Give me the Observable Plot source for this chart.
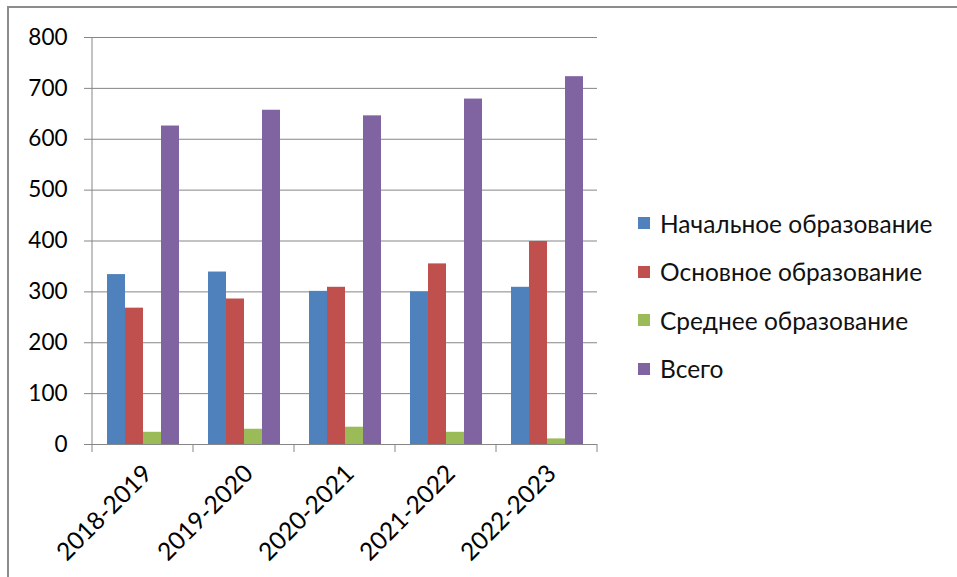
<!DOCTYPE html>
<html><head><meta charset="utf-8">
<script src="https://cdn.jsdelivr.net/npm/d3@7"></script>
<script src="https://cdn.jsdelivr.net/npm/@observablehq/plot@0.6"></script>
<style>
body{margin:0;background:#fff;}
#wrap{position:relative;width:957px;height:577px;overflow:hidden;font-family:Lato,"Open Sans",sans-serif;}
#frame{position:absolute;left:7px;top:6px;width:970px;height:600px;border-top:2px solid #8c8c8c;border-left:2px solid #8c8c8c;pointer-events:none;}
#chart{position:absolute;left:0;top:0;}
#legend{position:absolute;left:638px;top:199px;}
.row{display:flex;align-items:center;height:48.5px;font-size:24.5px;color:#111;white-space:nowrap;}
.sw{width:12px;height:12px;margin-right:10px;}
</style>
</head><body>
<div id="wrap"><div id="chart"></div><div id="legend"></div><div id="frame"></div></div>
<script>
const years = ["2018-2019","2019-2020","2020-2021","2021-2022","2022-2023"];
const series = ["Начальное образование","Основное образование","Среднее образование","Всего"];
const nachalnoe = [334,339,301,300,309];
const osnovnoe = [268,286,309,355,399];
const srednee = [24,30,34,24,11];
const vsego = [626,657,646,679,723];
const colors = ["#4F81BD","#C0504D","#9BBB59","#8064A2"];
const yTicks = [0,100,200,300,400,500,600,700,800];

const valuesBySeries = [nachalnoe, osnovnoe, srednee, vsego];
const rows = [];
years.forEach((yr,i)=>series.forEach((s,j)=>rows.push({year:yr, series:s, value:valuesBySeries[j][i]})));

const gridColor = "#868686";
const chart = Plot.plot({
  width:957, height:577,
  marginLeft:90, marginRight:359, marginTop:37, marginBottom:133,
  style:{fontFamily:"Lato, 'Open Sans', sans-serif", fontSize:"22.5px", color:"#000", background:"transparent", overflow:"visible"},
  fx:{domain:years, padding:0, label:null},
  x:{domain:series, paddingInner:0, paddingOuter:0.75, axis:null},
  y:{domain:[0,800], label:null},
  color:{domain:series, range:colors},
  marks:[
    Plot.gridY(yTicks,{stroke:gridColor, strokeOpacity:1}),
    Plot.axisY(yTicks,{tickSize:8, tickPadding:17, stroke:gridColor, label:null, anchor:"left"}),
    Plot.barY(rows,{fx:"year", x:"series", y:"value", fill:"series"}),
    Plot.ruleY([0],{stroke:gridColor}),
    Plot.axisFx({anchor:"bottom", tickSize:0, tickPadding:25, tickRotate:-45, textAnchor:"end", dx:5, fontSize:24.5, label:null})
  ]
});
document.getElementById("chart").appendChild(chart);

// axis line and category boundary ticks from the scales
const fx = chart.scale("fx"), y = chart.scale("y");
const bounds = years.map(v=>fx.apply(v)).concat([fx.apply(years[years.length-1]) + fx.bandwidth]);
const svg = d3.select(chart);
const y0 = y.apply(0), yTop = y.apply(800);
svg.append("line").attr("x1",bounds[0]).attr("x2",bounds[0]).attr("y1",yTop).attr("y2",y0).attr("stroke",gridColor);
svg.selectAll("line.ct").data(bounds).join("line").attr("class","ct")
  .attr("x1",d=>d).attr("x2",d=>d).attr("y1",y0).attr("y2",y0+8).attr("stroke",gridColor);

// legend
const lg = d3.select("#legend");
series.forEach((s,j)=>{
  const r = lg.append("div").attr("class","row");
  r.append("div").attr("class","sw").style("background",colors[j]);
  r.append("span").text(s);
});
</script>
</body></html>
